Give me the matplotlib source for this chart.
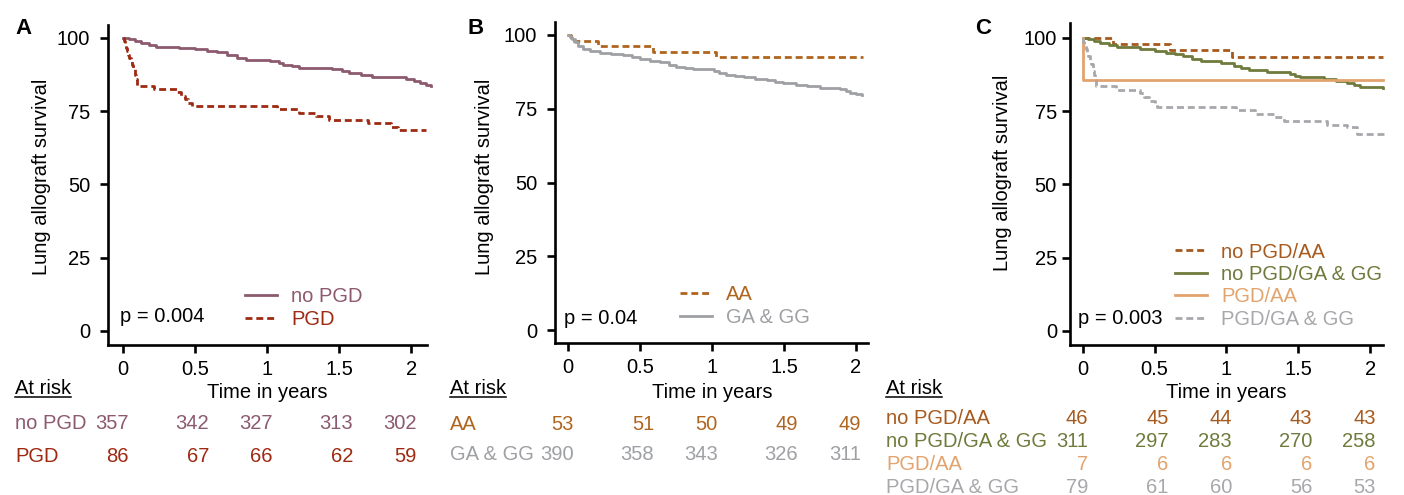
import matplotlib
matplotlib.use("Agg")
import matplotlib.pyplot as plt
from matplotlib.lines import Line2D

plt.rcParams['font.family'] = ['Liberation Sans', 'DejaVu Sans']

W, H = 1404, 495
FS = 14.5
FPX = FS * 100 / 72  # font size in pixels

# ---- data ----
years = [0, 0.5, 1, 1.5, 2]
year_labels = ['0', '0.5', '1', '1.5', '2']
surv_ticks = [0, 25, 50, 75, 100]

# panel A
a_nopgd_t = [0, 0.04, 0.08, 0.12, 0.18, 0.23, 0.39, 0.50, 0.58, 0.65, 0.72, 0.79, 0.85, 1.02,
             1.08, 1.11, 1.17, 1.22, 1.45, 1.52, 1.57, 1.65, 1.73, 1.96, 2.02, 2.06, 2.10, 2.14]
a_nopgd_s = [100, 99.6, 99.0, 98.3, 97.5, 96.8, 96.4, 96.0, 95.6, 95.0, 94.1, 93.2, 92.5, 92.0,
             91.4, 90.7, 90.2, 89.8, 89.2, 88.6, 87.9, 87.2, 86.5, 85.9, 85.3, 84.7, 84.0, 83.5]
a_pgd_t = [0, 0.004, 0.010, 0.016, 0.024, 0.032, 0.040, 0.050, 0.060, 0.070, 0.078, 0.085, 0.092,
           0.21, 0.37, 0.40, 0.43, 0.45, 0.48, 1.07, 1.22, 1.34, 1.43, 1.70, 1.86, 1.91, 2.10]
a_pgd_s = [100, 98.8, 97.7, 96.5, 95.3, 94.2, 93.0, 91.9, 90.7, 89.5, 87.2, 86.0, 83.7,
           82.6, 81.4, 80.2, 79.1, 77.9, 76.7, 75.6, 74.4, 73.3, 72.1, 70.9, 69.7, 68.5, 68.5]
a_nopgd_risk = [357, 342, 327, 313, 302]
a_pgd_risk = [86, 67, 66, 62, 59]

# panel B
b_aa_t = [0, 0.02, 0.21, 0.59, 1.03, 2.05]
b_aa_s = [100, 98.1, 96.2, 94.3, 92.4, 92.4]
b_ga_t = [0, 0.01, 0.025, 0.046, 0.07, 0.10, 0.15, 0.22, 0.30, 0.38, 0.44, 0.50, 0.57, 0.64,
          0.70, 0.75, 0.81, 0.87, 1.01, 1.05, 1.10, 1.16, 1.22, 1.30, 1.38, 1.44, 1.49, 1.58,
          1.66, 1.75, 1.89, 1.93, 1.96, 2.00, 2.04]
b_ga_s = [100, 99.2, 98.5, 97.7, 96.4, 95.1, 94.6, 94.0, 93.6, 93.2, 92.5, 91.8, 91.3, 90.7,
          90.0, 89.3, 88.9, 88.4, 87.9, 87.2, 86.4, 86.0, 85.6, 85.2, 84.7, 84.1, 83.6, 83.2,
          82.7, 81.9, 81.6, 81.1, 80.5, 80.0, 79.7]
b_aa_risk = [53, 51, 50, 49, 49]
b_ga_risk = [390, 358, 343, 326, 311]

# panel C
c_naa_t = [0, 0.21, 0.61, 1.04, 2.09]
c_naa_s = [100, 97.8, 95.7, 93.5, 93.5]
c_nga_t = [0, 0.04, 0.08, 0.12, 0.18, 0.24, 0.40, 0.50, 0.58, 0.64, 0.70, 0.76, 0.82, 0.96,
           1.05, 1.10, 1.16, 1.28, 1.44, 1.48, 1.51, 1.68, 1.76, 1.84, 1.89, 1.93, 2.09]
c_nga_s = [100, 99.4, 98.9, 98.3, 97.6, 96.9, 96.0, 95.5, 94.9, 94.4, 93.8, 92.9, 92.0, 91.3,
           90.3, 89.6, 89.0, 88.4, 87.6, 87.1, 86.5, 85.8, 85.1, 84.4, 83.8, 83.1, 82.7]
c_paa_t = [0, 0.005, 2.09]
c_paa_s = [100, 85.7, 85.7]
c_pga_t = [0, 0.005, 0.012, 0.02, 0.03, 0.04, 0.05, 0.06, 0.07, 0.075, 0.08, 0.085, 0.09, 0.095,
           0.23, 0.40, 0.43, 0.46, 0.50, 0.52, 1.07, 1.20, 1.33, 1.40, 1.70, 1.84, 1.91, 2.11]
c_pga_s = [100, 98.7, 97.5, 96.2, 94.9, 93.7, 92.4, 91.1, 89.9, 88.6, 87.3, 86.1, 84.8, 83.5,
           82.3, 81.0, 79.8, 78.5, 77.3, 76.3, 75.2, 74.0, 72.8, 71.6, 70.3, 69.5, 67.2, 67.2]
c_naa_risk = [46, 45, 44, 43, 43]
c_nga_risk = [311, 297, 283, 270, 258]
c_paa_risk = [7, 6, 6, 6, 6]
c_pga_risk = [79, 61, 60, 56, 53]

DASH = (0, (2.5, 1.4))
LW = 2.0
SPW = 1.9

fig = plt.figure(figsize=(W / 100, H / 100), dpi=100)


def fx(x):
    return x / W


def fy(y):
    return 1 - y / H


def label(x, yc, s, **kw):
    # place text so that cap-height centre sits at pixel row yc
    return fig.text(fx(x), fy(yc + 0.358 * FPX), s, va='baseline', fontsize=kw.pop('fontsize', FS), **kw)


def make_axes(x0, kx, y100, y0, xl, xr, yb, yt, xmax, ypad):
    ky = (y0 - y100) / 100
    xmin = (xl - x0) / kx
    ax = fig.add_axes([fx(xl), fy(yb), (x0 + xmax * kx - xl) / W, (yb - yt) / H])
    ax.set_xlim(xmin, xmax)
    ax.set_ylim((y0 - yb) / ky, (y0 - yt) / ky)
    for s in ['top', 'right']:
        ax.spines[s].set_visible(False)
    for s in ['left', 'bottom']:
        ax.spines[s].set_linewidth(SPW)
    ax.spines['bottom'].set_bounds(xmin, (xr - x0) / kx)
    ax.set_xticks(years)
    ax.set_xticklabels(year_labels)
    ax.set_yticks(surv_ticks)
    ax.tick_params(direction='out', length=5.8, width=SPW, labelsize=FS, colors='black')
    ax.tick_params(axis='x', pad=5.0)
    ax.tick_params(axis='y', pad=ypad)
    return ax


panels = [
    dict(geo=(123.3, 144.0, 37.7, 331, 108, 427, 345, 25, 2.17, 7.0), letter='A', lx=15,
         ylab=(42, 177), p=('p = 0.004', 120, 315), leg=(245, 287.5), risk_x=15, risk_y=[422, 455],
         curves=[(a_nopgd_t, a_nopgd_s, '#8C5A6E', '-', 'no PGD', a_nopgd_risk),
                 (a_pgd_t, a_pgd_s, '#9E2A12', DASH, 'PGD', a_pgd_risk)]),
    dict(geo=(568.3, 143.8, 35, 330, 555, 868, 343, 22, 2.1, 7.0), letter='B', lx=467,
         ylab=(485, 177), p=('p = 0.04', 564, 317), leg=(680, 285.5), risk_x=450, risk_y=[423, 453],
         curves=[(b_aa_t, b_aa_s, '#B0651E', DASH, 'AA', b_aa_risk),
                 (b_ga_t, b_ga_s, '#9EA0A4', '-', 'GA & GG', b_ga_risk)]),
    dict(geo=(1082.7, 143.7, 37.7, 331, 1070, 1383, 345, 23, 2.12, 3.6), letter='C', lx=975,
         ylab=(1003, 173), p=('p = 0.003', 1078, 317), leg=(1175, 242.5), risk_x=886,
         risk_y=[417, 440, 463, 486],
         curves=[(c_naa_t, c_naa_s, '#A65A1E', DASH, 'no PGD/AA', c_naa_risk),
                 (c_nga_t, c_nga_s, '#6E7B3C', '-', 'no PGD/GA & GG', c_nga_risk),
                 (c_paa_t, c_paa_s, '#E2A46E', '-', 'PGD/AA', c_paa_risk),
                 (c_pga_t, c_pga_s, '#A8A8AC', DASH, 'PGD/GA & GG', c_pga_risk)]),
]

axes = []
for pn in panels:
    x0, kx = pn['geo'][0], pn['geo'][1]
    ax = make_axes(*pn['geo'])
    axes.append(ax)
    for t, s, c, ls, lab, _ in pn['curves']:
        ax.step(t, s, where='post', color=c, lw=LW, ls=ls, label=lab, clip_on=False)
    ax.legend(loc='upper left', bbox_to_anchor=(fx(pn['leg'][0]), fy(pn['leg'][1])),
              bbox_transform=fig.transFigure, frameon=False, fontsize=FS,
              borderpad=0, borderaxespad=0, handlelength=1.6, handletextpad=0.7,
              labelspacing=0.17, labelcolor='linecolor')
    # panel letter, y label, p value
    label(pn['lx'], 27, pn['letter'], fontsize=16, fontweight='bold')
    fig.text(fx(pn['ylab'][0]), fy(pn['ylab'][1]), 'Lung allograft survival', rotation=90,
             ha='center', va='center', fontsize=FS)
    label(pn['p'][1], pn['p'][2], pn['p'][0])
    label(x0 + kx * 1.0, 391, 'Time in years', ha='center')

fig.canvas.draw()
r = fig.canvas.get_renderer()
for pn, ax in zip(panels, axes):
    rights = [lab.get_window_extent(r).x1 for lab in ax.get_xticklabels()]
    ar = label(pn['risk_x'], 387, 'At risk')
    bb = ar.get_window_extent(r)
    fig.add_artist(Line2D([bb.x0 / W, bb.x1 / W], [fy(396.5), fy(396.5)], transform=fig.transFigure,
                          color='black', lw=1.1))
    for (t, s, c, ls, lab, risk), yr in zip(pn['curves'], pn['risk_y']):
        label(pn['risk_x'], yr, lab, color=c)
        for xr_, n in zip(rights, risk):
            label(xr_, yr, str(n), color=c, ha='right')

fig.savefig('out.png', dpi=100)
